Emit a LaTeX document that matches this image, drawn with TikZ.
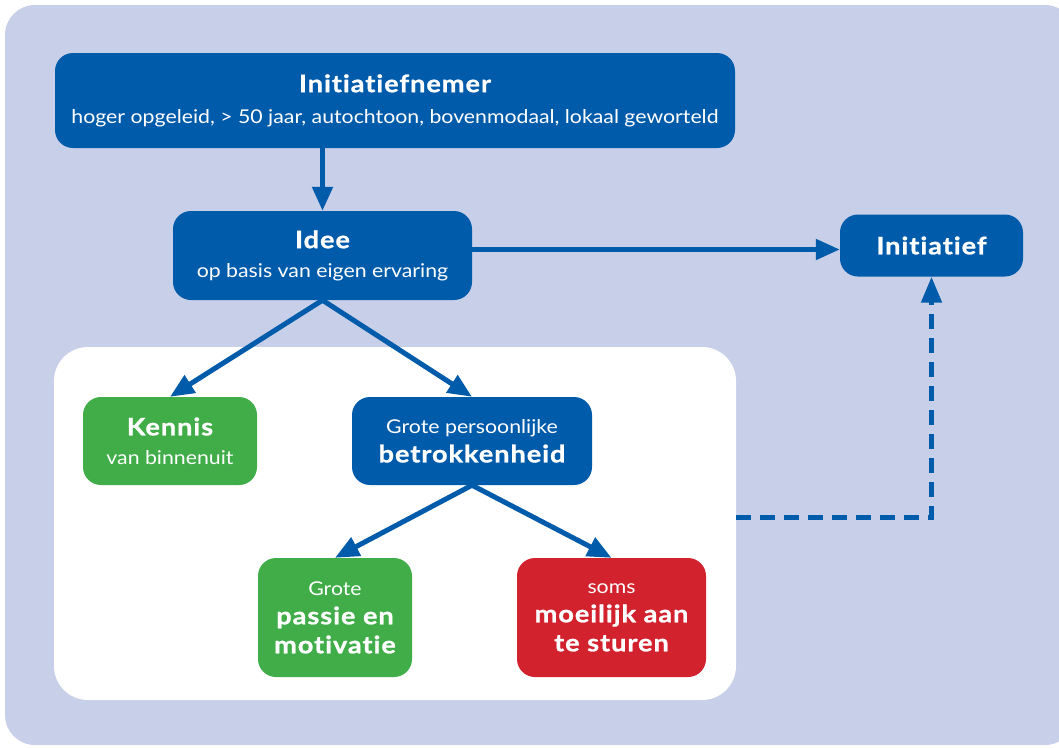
\documentclass[tikz,border=0pt]{standalone}
\usepackage{fontspec}
\setmainfont{Lato}[Ligatures={NoCommon}]
\newfontfamily\ttlfam{Lato}[LetterSpace=4, FakeStretch=1.13, Ligatures={NoCommon}, BoldFeatures={FakeBold=1}]
\newfontfamily\sbtfam{Lato}[FakeStretch=1.12, Ligatures={NoCommon}]
\usetikzlibrary{arrows.meta,calc}
\definecolor{bgc}{HTML}{C8CFE8}
\definecolor{nblue}{HTML}{005BAA}
\definecolor{ngreen}{HTML}{41AD49}
\definecolor{nred}{HTML}{D2222D}
\newcommand{\ttl}{\ttlfam\bfseries\fontsize{24}{29}\selectfont}
\newcommand{\sbt}{\sbtfam\fontsize{19}{29}\selectfont}
\begin{document}
\begin{tikzpicture}[x=1pt,y=-1pt,
  box/.style={rounded corners=18pt, inner sep=0pt, text=white, align=center, fill=nblue, font=\fontsize{19}{29}\selectfont},
  gbox/.style={box, fill=ngreen},
  rbox/.style={box, fill=nred},
  arr/.style={draw=nblue, line width=5pt, -{Triangle[length=24pt,width=20pt]}},
  darr/.style={draw=nblue, line width=5pt, dash pattern=on 15pt off 9pt, -{Triangle[length=26pt,width=20pt]}}
]
\useasboundingbox (0,0) rectangle (1059,747);
\clip (0,0) rectangle (1059,747);
\fill[bgc, rounded corners=30pt] (5,5) rectangle (1075,745);
\node[fill=white, rounded corners=34pt, minimum width=682pt, minimum height=353pt, inner sep=0pt] (panel) at (395,523.5) {};

\node[box, minimum width=680pt, minimum height=95pt] (inm) at (395,100.5)
  {{\ttl Initiatiefnemer}\\[2pt]{\sbt hoger opgeleid, > 50 jaar, autochtoon, bovenmodaal, lokaal geworteld}};
\node[box, minimum width=299pt, minimum height=89pt] (idee) at (322.5,255.5)
  {{\ttl Idee}\\{\sbt op basis van eigen ervaring}};
\node[box, minimum width=183pt, minimum height=62pt] (init) at (931.5,245.5)
  {{\ttl Initiatief}};
\node[gbox, minimum width=174pt, minimum height=88pt] (kennis) at (170,441)
  {{\ttl Kennis}\\{\sbt van binnenuit}};
\node[box, minimum width=240pt, minimum height=88pt] (betr) at (472,441)
  {{\sbt Grote persoonlijke}\\{\ttl betrokkenheid}};
\node[gbox, minimum width=154pt, minimum height=119pt] (passie) at (335,617.5)
  {{\sbt Grote}\\{\ttl passie en}\\{\ttl motivatie}};
\node[rbox, minimum width=189pt, minimum height=119pt] (soms) at (611.5,617.5)
  {{\sbt soms}\\{\ttl moeilijk aan}\\{\ttl te sturen}};

\draw[arr] (inm.south -| idee.north) -- (idee.north);
\draw[arr] (idee.east) ++(0,-6) coordinate (ia) -- (ia -| init.west);
\draw[arr] (idee.south) -- (kennis.north);
\draw[arr] (idee.south) -- (betr.north);
\draw[arr] (betr.south) -- (passie.north);
\draw[arr] (betr.south) -- (soms.north);
\draw[darr] (panel.east) ++(0,-6) coordinate (pd) -- (pd -| init.south) -- (init.south);
\end{tikzpicture}
\end{document}
